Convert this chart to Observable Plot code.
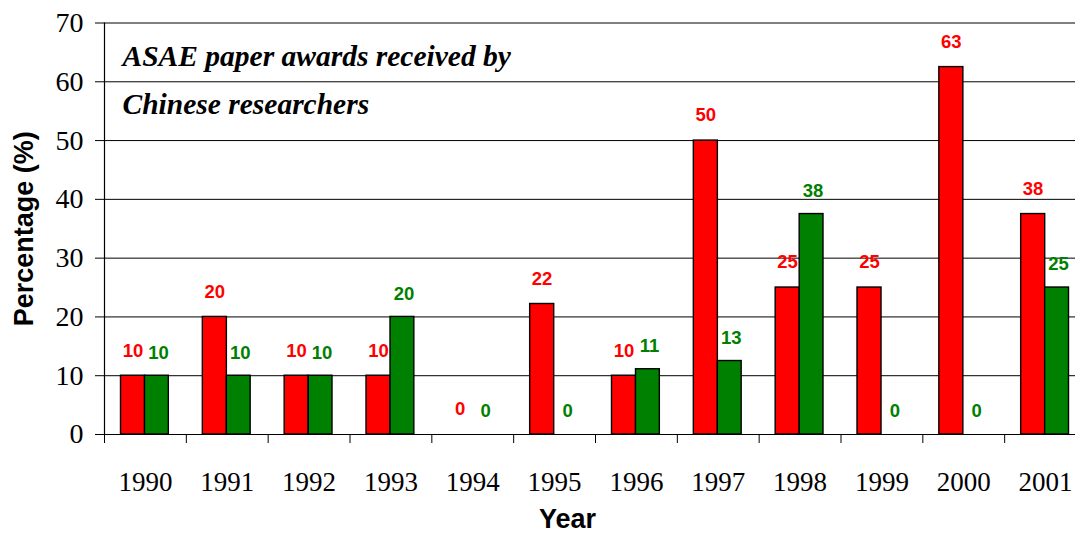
<!DOCTYPE html>
<html>
<head>
<meta charset="utf-8">
<script src="https://cdn.jsdelivr.net/npm/d3@7"></script>
<script src="https://cdn.jsdelivr.net/npm/@observablehq/plot@0.6"></script>
<style>
  html, body { margin: 0; padding: 0; background: #fff; }
  #chart svg { display: block; background: #fff; color: #000; }
</style>
</head>
<body>
<div id="chart"></div>
<script>
const years = ["1990","1991","1992","1993","1994","1995","1996","1997","1998","1999","2000","2001"];
const redValues = [10, 20, 10, 10, 0, 22.2, 10, 50, 25, 25, 62.5, 37.5];
const greenValues = [10, 10, 10, 20, 0, 0, 11.1, 12.5, 37.5, 0, 0, 25];
const yTicks = [0, 10, 20, 30, 40, 50, 60, 70];
const titleLine1 = "ASAE paper awards received by";
const titleLine2 = "Chinese researchers";
const yLabel = "Percentage (%)";
const xLabel = "Year";
const redColor = "#ff0000";
const greenColor = "#008000";

const W = 1075, H = 533;
const mL = 104, mR = -11, mT = 22.5, mB = 99;
const bw = (W - mR - mL) / years.length;

const red = years.map((y, i) => ({year: y, value: redValues[i]}));
const green = years.map((y, i) => ({year: y, value: greenValues[i]}));

const serif = "'Liberation Serif', 'Times New Roman', serif";
const sans = "'Liberation Sans', Arial, sans-serif";

const chart = Plot.plot({
  width: W,
  height: H,
  marginLeft: mL,
  marginRight: mR,
  marginTop: mT,
  marginBottom: mB,
  style: {background: "#fff", color: "#000"},
  x: {domain: years, padding: 0, round: false, axis: null},
  y: {domain: [0, 70], axis: null},
  marks: [
    Plot.gridY(yTicks, {stroke: "#000", strokeOpacity: 1, strokeWidth: 1}),
    Plot.barY(red.filter(d => d.value > 0), {
      x: "year", y: "value", fill: redColor, stroke: "#000", strokeWidth: 1.4,
      insetLeft: 16.5, insetRight: 41.3
    }),
    Plot.barY(green.filter(d => d.value > 0), {
      x: "year", y: "value", fill: greenColor, stroke: "#000", strokeWidth: 1.4,
      insetLeft: 40.5, insetRight: 17.5
    }),
    Plot.ruleY([0], {stroke: "#000", strokeWidth: 1.2}),
    Plot.frame({anchor: "left", stroke: "#000", strokeWidth: 1.2}),
    Plot.axisY(yTicks, {
      tickSize: 9, tickPadding: 12, fontSize: 28, fontFamily: serif, label: null,
      stroke: "#000"
    }),
    Plot.axisX({
      tickSize: 9, dx: -bw / 2, tickFormat: () => "", label: null, stroke: "#000"
    }),
    Plot.axisX({
      tickSize: 0, tickPadding: 37, fontSize: 27, fontFamily: serif, label: null
    }),
    Plot.text(red, {
      x: "year", y: "value", text: d => String(Math.round(d.value)),
      dx: -12.5, dy: -25, fill: redColor, fontSize: 18.5, fontWeight: "bold", fontFamily: sans
    }),
    Plot.text(green, {
      x: "year", y: "value", text: d => String(Math.round(d.value)),
      dx: 13, dy: -23, fill: greenColor, fontSize: 18.5, fontWeight: "bold", fontFamily: sans
    }),
    Plot.text([titleLine1], {
      frameAnchor: "top-left", textAnchor: "start", lineAnchor: "bottom",
      dx: 18, dy: 43, fontSize: 29.5, fontWeight: "bold", fontStyle: "italic", fontFamily: serif, fill: "#000"
    }),
    Plot.text([titleLine2], {
      frameAnchor: "top-left", textAnchor: "start", lineAnchor: "bottom",
      dx: 18, dy: 91, fontSize: 29.5, fontWeight: "bold", fontStyle: "italic", fontFamily: serif, fill: "#000"
    }),
    Plot.text([yLabel], {
      frameAnchor: "left", textAnchor: "middle", rotate: -90, dx: -80,
      fontSize: 27, fontWeight: "bold", fontFamily: sans, fill: "#000"
    }),
    Plot.text([xLabel], {
      frameAnchor: "bottom", textAnchor: "middle", lineAnchor: "bottom", dx: -28, dy: 93,
      fontSize: 27, fontWeight: "bold", fontFamily: sans, fill: "#000"
    })
  ]
});

document.getElementById("chart").appendChild(chart);
</script>
</body>
</html>
